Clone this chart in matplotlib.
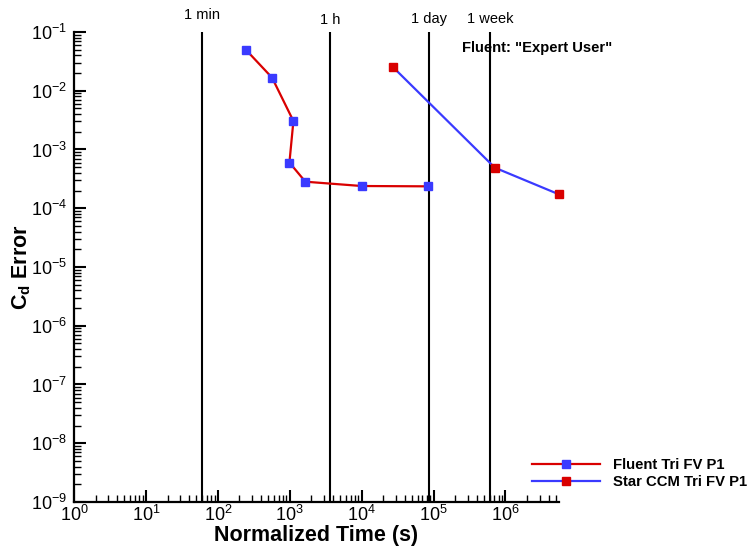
import numpy as np
import matplotlib
matplotlib.use('Agg')
import matplotlib.pyplot as plt
import matplotlib.transforms as mtransforms

plt.rcParams['font.family'] = ['Liberation Sans', 'DejaVu Sans']
plt.rcParams['mathtext.fontset'] = 'custom'
plt.rcParams['mathtext.rm'] = 'Liberation Sans'
plt.rcParams['mathtext.it'] = 'Liberation Sans:italic'
plt.rcParams['mathtext.bf'] = 'Liberation Sans:bold'
plt.rcParams['axes.unicode_minus'] = False

# Fluent Tri FV P1 run
fluent_time = [245, 568, 1125, 990, 1650, 10000, 83000]
fluent_err = [5.0e-2, 1.67e-2, 3.05e-3, 6.0e-4, 2.83e-4, 2.39e-4, 2.36e-4]

# Star CCM Tri FV P1 run
star_time = [27500, 711000, 5.5e6]
star_err = [2.5e-2, 4.9e-4, 1.73e-4]

# reference wall-clock marks (seconds)
mark_labels = ['1 min', '1 h', '1 day', '1 week']
mark_times = [60, 3600, 86400, 604800]

RED = '#d90000'
BLUE = '#3a3aff'

fig = plt.figure(figsize=(7.51, 5.46), dpi=100)
ax = fig.add_axes([0.0985, 0.0806, 0.6455, 0.8608])

ax.plot(fluent_time, fluent_err, color=RED, lw=1.6, marker='s', ms=6,
        mfc=BLUE, mec=BLUE, label='Fluent Tri FV P1', zorder=3, clip_on=False)
ax.plot(star_time, star_err, color=BLUE, lw=1.6, marker='s', ms=6,
        mfc=RED, mec=RED, label='Star CCM Tri FV P1', zorder=3, clip_on=False)

ax.set_xscale('log')
ax.set_yscale('log')
ax.set_xlim(1, max(star_time))
ax.set_ylim(1e-9, 1e-1)

trans = mtransforms.blended_transform_factory(ax.transData, ax.transAxes)
label_y = [1.036, 1.026, 1.027, 1.028]
for t, lab, ly in zip(mark_times, mark_labels, label_y):
    ax.axvline(t, color='black', lw=1.5, zorder=2)
    ax.text(t, ly, lab, transform=trans, ha='center', va='center', fontsize=10.5)

ax.text(0.955, 0.966, 'Fluent: "Expert User"', transform=ax.transAxes,
        ha='center', va='center', fontsize=10.6, fontweight='bold', clip_on=False)

for side in ['top', 'right']:
    ax.spines[side].set_visible(False)
for side in ['left', 'bottom']:
    ax.spines[side].set_linewidth(1.6)

ax.tick_params(which='major', direction='in', length=8.5, width=1.5, labelsize=13)
ax.tick_params(which='minor', direction='in', length=5, width=1.0)
ax.tick_params(axis='y', which='major', pad=5)
ax.tick_params(axis='x', which='major', pad=2)
ax.yaxis.set_minor_locator(matplotlib.ticker.LogLocator(base=10, subs=np.arange(2, 10), numticks=20))
ax.xaxis.set_minor_locator(matplotlib.ticker.LogLocator(base=10, subs=np.arange(2, 10), numticks=20))
ax.yaxis.set_minor_formatter(matplotlib.ticker.NullFormatter())
ax.xaxis.set_minor_formatter(matplotlib.ticker.NullFormatter())

ax.set_xlabel('Normalized Time (s)', fontsize=15.5, fontweight='bold', labelpad=0)
ax.set_ylabel(r'C$_\mathbf{d}$ Error', fontsize=15.5, fontweight='bold')
ax.yaxis.set_label_coords(-0.084, 0.5)

fig.legend(loc='center left', bbox_to_anchor=(0.708, 0.133), frameon=False,
           prop={'size': 10.7, 'weight': 'bold'}, handlelength=4.6,
           handletextpad=0.9, labelspacing=0.22, borderpad=0, borderaxespad=0)

fig.savefig('out.png', dpi=100)
